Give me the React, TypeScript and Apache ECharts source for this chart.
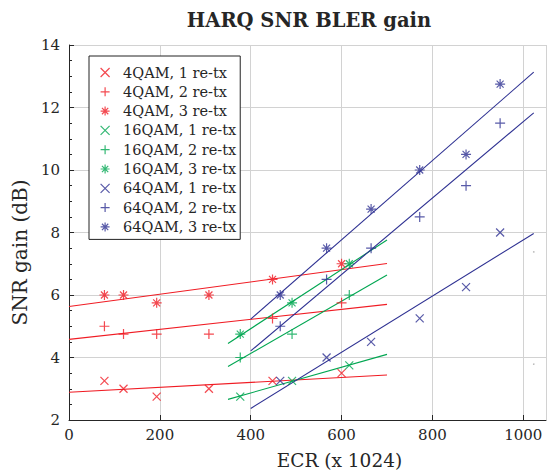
import React, { useEffect, useRef } from "react";
import * as echarts from "echarts";

// ---- data ----
const qam4X = [78, 120, 193, 308, 448, 600];
const qam4Re1 = [3.25, 3.0, 2.75, 3.0, 3.25, 3.5];
const qam4Re2 = [5.0, 4.75, 4.75, 4.75, 5.25, 5.75];
const qam4Re3 = [6.0, 6.0, 5.75, 6.0, 6.5, 7.0];

const qam16X = [377, 491, 617];
const qam16Re1 = [2.75, 3.25, 3.75];
const qam16Re2 = [4.0, 4.75, 6.0];
const qam16Re3 = [4.75, 5.75, 7.0];

const qam64X = [465, 567, 665, 772, 874, 949];
const qam64Re1 = [3.25, 4.0, 4.5, 5.25, 6.25, 8.0];
const qam64Re2 = [5.0, 6.5, 7.5, 8.5, 9.5, 11.5];
const qam64Re3 = [6.0, 7.5, 8.75, 10.0, 10.5, 12.75];

// fitted line end points
const fit4X = [0, 700];
const fit4Re1 = [2.89, 3.44];
const fit4Re2 = [4.58, 5.7];
const fit4Re3 = [5.63, 7.01];
const fit16X = [350, 700];
const fit16Re1 = [2.66, 4.1];
const fit16Re2 = [3.71, 6.64];
const fit16Re3 = [4.45, 7.76];
const fit64X = [400, 1023];
const fit64Re1 = [2.37, 7.97];
const fit64Re2 = [4.21, 11.83];
const fit64Re3 = [5.23, 13.13];

// stray dots at the right edge
const dotX = [1023, 1023];
const dotY = [7.38, 3.79];

const xTicks = { min: 0, max: 1050, interval: 200 };
const yTicks = { min: 2, max: 14, interval: 2 };

const RED = "#f01c24";
const GREEN = "#00a651";
const BLUE = "#2e3192";

const SYM_X = "path://M0,0L10,10M10,0L0,10";
const SYM_PLUS = "path://M5,0L5,10M0,5L10,5";
const SYM_STAR = "path://M5,0L5,10M0,5L10,5M1.5,1.5L8.5,8.5M8.5,1.5L1.5,8.5";

const FONT = "DejaVu Serif";
const TXT = "#262626";

function zip(xs: number[], ys: number[]) {
  return xs.map((x, i) => [x, ys[i]]);
}

export default function App() {
  const ref = useRef<HTMLDivElement>(null);
  useEffect(() => {
    if (!ref.current) return;
    const chart = echarts.init(ref.current, null, { renderer: "svg" });

    const scat = (name: string, xs: number[], ys: number[], color: string, sym: string, size: number) => ({
      name,
      type: "scatter",
      data: zip(xs, ys),
      symbol: sym,
      symbolSize: size,
      itemStyle: { color, borderColor: color, borderWidth: 1.2 },
      z: 3,
    });
    const fit = (xs: number[], ys: number[], color: string) => ({
      type: "line",
      data: zip(xs, ys),
      showSymbol: false,
      symbol: "none",
      lineStyle: { color, width: 1.1 },
      silent: true,
      z: 2,
    });

    const scatters = [
      scat("4QAM, 1 re-tx", qam4X, qam4Re1, RED, SYM_X, 8),
      scat("4QAM, 2 re-tx", qam4X, qam4Re2, RED, SYM_PLUS, 10),
      scat("4QAM, 3 re-tx", qam4X, qam4Re3, RED, SYM_STAR, 10),
      scat("16QAM, 1 re-tx", qam16X, qam16Re1, GREEN, SYM_X, 8),
      scat("16QAM, 2 re-tx", qam16X, qam16Re2, GREEN, SYM_PLUS, 10),
      scat("16QAM, 3 re-tx", qam16X, qam16Re3, GREEN, SYM_STAR, 10),
      scat("64QAM, 1 re-tx", qam64X, qam64Re1, BLUE, SYM_X, 8),
      scat("64QAM, 2 re-tx", qam64X, qam64Re2, BLUE, SYM_PLUS, 10),
      scat("64QAM, 3 re-tx", qam64X, qam64Re3, BLUE, SYM_STAR, 10),
    ];

    const option: any = {
      animation: false,
      backgroundColor: "#ffffff",
      title: {
        text: "HARQ SNR BLER gain",
        left: 304,
        textAlign: "center",
        top: 5,
        textStyle: { fontFamily: FONT, fontWeight: "bold", fontSize: 19.5, color: TXT },
      },
      legend: {
        orient: "vertical",
        left: 89,
        top: 56,
        width: 160,
        padding: [9, 4, 5, 11],
        itemWidth: 26,
        itemHeight: 9,
        itemGap: 4.3,
        backgroundColor: "#ffffff",
        borderColor: "#222222",
        borderWidth: 1,
        borderRadius: 0,
        symbolKeepAspect: true,
        itemStyle: { borderWidth: 1.2 },
        textStyle: { fontFamily: FONT, fontSize: 14.5, color: TXT },
        data: scatters.map((s) => s.name),
      },
      grid: { left: 69, top: 45, right: 2, bottom: 55, containLabel: false },
      xAxis: {
        type: "value",
        min: xTicks.min,
        max: xTicks.max,
        interval: xTicks.interval,
        name: "ECR (x 1024)",
        nameLocation: "middle",
        nameGap: 31,
        nameTextStyle: { fontFamily: FONT, fontSize: 18.5, color: TXT, padding: [0, 0, 0, 64] },
        axisLine: { show: true, onZero: false, lineStyle: { color: TXT, width: 1 } },
        axisTick: { show: true, inside: true, length: 5, lineStyle: { color: TXT } },
        axisLabel: {
          showMaxLabel: false,
          margin: 7,
          fontFamily: FONT,
          fontSize: 15,
          color: TXT,
          formatter: (v: number) => String(v),
        },
        splitLine: { show: true, lineStyle: { color: "#d2d2d2", width: 1 } },
      },
      yAxis: {
        type: "value",
        min: yTicks.min,
        max: yTicks.max,
        interval: yTicks.interval,
        name: "SNR gain (dB)",
        nameLocation: "middle",
        nameGap: 31,
        nameTextStyle: { fontFamily: FONT, fontSize: 20, color: TXT, padding: [0, 40, 0, 0] },
        axisLine: { show: true, onZero: false, lineStyle: { color: TXT, width: 1 } },
        axisTick: { show: true, inside: true, length: 5, lineStyle: { color: TXT } },
        minorTick: { show: true, splitNumber: 4, length: 3, lineStyle: { color: TXT } },
        axisLabel: { margin: 9, fontFamily: FONT, fontSize: 15, color: TXT, formatter: (v: number) => String(v) },
        splitLine: { show: true, lineStyle: { color: "#d2d2d2", width: 1 } },
      },
      series: [
        fit(fit4X, fit4Re1, RED),
        fit(fit4X, fit4Re2, RED),
        fit(fit4X, fit4Re3, RED),
        fit(fit16X, fit16Re1, GREEN),
        fit(fit16X, fit16Re2, GREEN),
        fit(fit16X, fit16Re3, GREEN),
        fit(fit64X, fit64Re1, BLUE),
        fit(fit64X, fit64Re2, BLUE),
        fit(fit64X, fit64Re3, BLUE),
        ...scatters,
        {
          type: "scatter",
          data: zip(dotX, dotY),
          symbol: "circle",
          symbolSize: 1.5,
          itemStyle: { color: "#999999" },
          silent: true,
        },
      ],
    };
    chart.setOption(option);
    return () => chart.dispose();
  }, []);

  return (
    <div
      ref={ref}
      style={{ position: "fixed", left: 0, top: 0, width: 548, height: 475, background: "#fff" }}
    />
  );
}
